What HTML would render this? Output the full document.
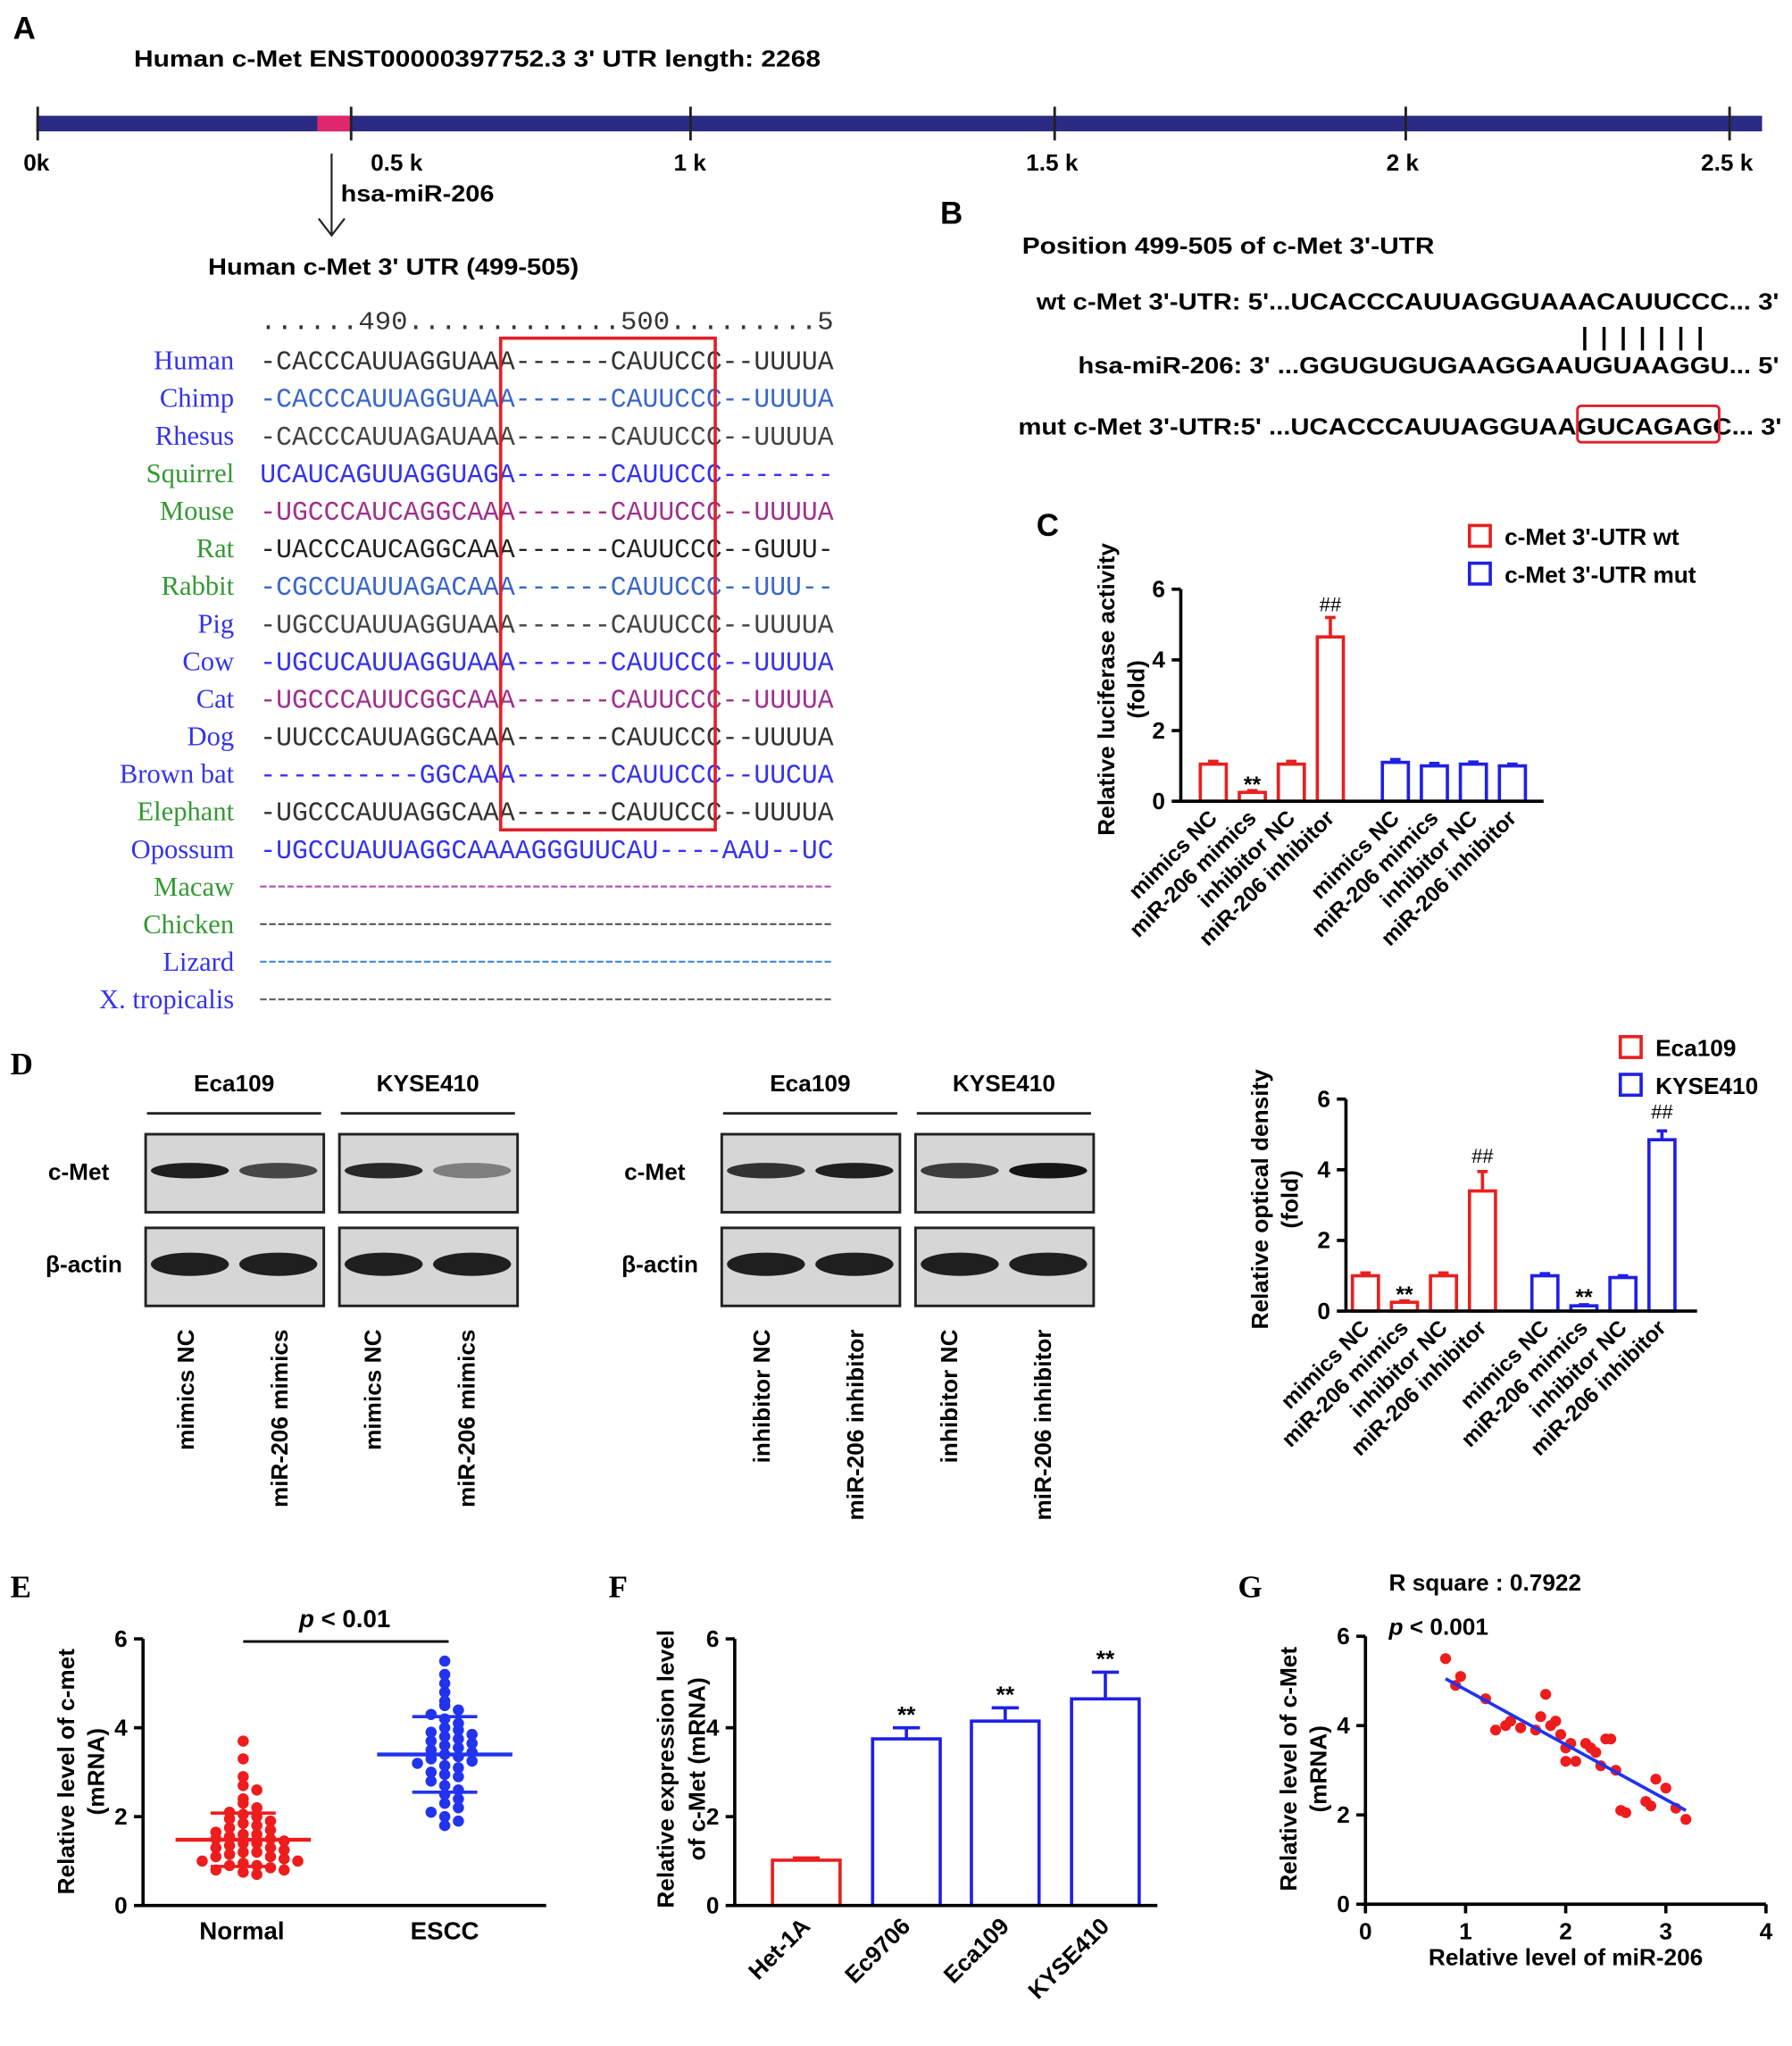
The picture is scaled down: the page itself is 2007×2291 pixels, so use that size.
<!DOCTYPE html>
<html><head><meta charset="utf-8"><style>
html,body{margin:0;padding:0;background:#fff}
svg{display:block}
text{font-family:"Liberation Sans",Arial,sans-serif}
.b{font-weight:bold}
.mono{font-family:"Liberation Mono",monospace}
.serif{font-family:"Liberation Serif",serif}
</style></head><body>
<svg id="fig" width="2007" height="2291" viewBox="0 0 1378 1573" xmlns="http://www.w3.org/2000/svg">
<defs><clipPath id="alnclip"><rect x="195" y="230" width="446" height="560"/></clipPath></defs>
<g>
<text x="10" y="30" font-size="24" class="b">A</text>
<text x="103" y="51" font-size="18" class="b" textLength="528" lengthAdjust="spacingAndGlyphs">Human c-Met  ENST00000397752.3   3' UTR length: 2268</text>
<rect x="28" y="89" width="1327" height="12" fill="#2b2b85"/>
<rect x="244" y="89" width="26" height="12" fill="#e0266e"/>
<g stroke="#222" stroke-width="2">
<line x1="29" y1="82" x2="29" y2="108"/><line x1="270" y1="82" x2="270" y2="108"/><line x1="531" y1="82" x2="531" y2="108"/><line x1="811" y1="82" x2="811" y2="108"/><line x1="1081" y1="82" x2="1081" y2="108"/><line x1="1330" y1="82" x2="1330" y2="108"/></g>
<g font-size="18" class="b">
<text x="18" y="131">0k</text><text x="285" y="131">0.5 k</text><text x="518" y="131">1 k</text><text x="789" y="131">1.5 k</text><text x="1066" y="131">2 k</text><text x="1308" y="131">2.5 k</text></g>
<line x1="255" y1="118" x2="255" y2="180" stroke="#222" stroke-width="1.5"/>
<path d="M245 168 L255 181 L265 168" fill="none" stroke="#222" stroke-width="1.5"/>
<text x="262" y="155" font-size="18" class="b" textLength="118" lengthAdjust="spacingAndGlyphs">hsa-miR-206</text>
<text x="160" y="211" font-size="18" class="b" textLength="285" lengthAdjust="spacingAndGlyphs">Human c-Met 3' UTR (499-505)</text>
<g id="aln" clip-path="url(#alnclip)"></g>
<g id="alnNames"></g>
<rect x="385" y="260" width="165" height="378" fill="none" stroke="#e0202a" stroke-width="2.5"/>
</g>
<g>
<text x="723" y="172" font-size="24" class="b">B</text>
<text x="786" y="195" font-size="18" class="b" textLength="317" lengthAdjust="spacingAndGlyphs">Position 499-505 of c-Met  3'-UTR</text>
<text x="797" y="238" font-size="18" class="b" textLength="571" lengthAdjust="spacingAndGlyphs">wt c-Met 3'-UTR: 5'...UCACCCAUUAGGUAAACAUUCCC... 3'</text>
<text x="1216" y="265" font-size="19" class="b" textLength="94">|||||||</text>
<text x="829" y="287" font-size="18" class="b" textLength="539" lengthAdjust="spacingAndGlyphs">hsa-miR-206: 3' ...GGUGUGUGAAGGAAUGUAAGGU... 5'</text>
<text x="783" y="334" font-size="18" class="b" textLength="587" lengthAdjust="spacingAndGlyphs">mut c-Met 3'-UTR:5' ...UCACCCAUUAGGUAAGUCAGAGC... 3'</text>
<rect x="1213" y="312" width="109" height="28" rx="3" fill="none" stroke="#e0202a" stroke-width="2"/>
</g>
<g id="charts"></g>
<g>
<text x="8" y="826" font-size="24" class="b serif">D</text>
<g id="blots"></g>
</g>
<text x="8" y="1228" font-size="24" class="b serif">E</text>
<text x="468" y="1228" font-size="24" class="b serif">F</text>
<text x="952" y="1228" font-size="24" class="b serif">G</text>
<text x="797" y="412" font-size="24" class="b">C</text>
</svg>
<script>
const species = ["Human","Chimp","Rhesus","Squirrel","Mouse","Rat","Rabbit","Pig","Cow","Cat","Dog","Brown bat","Elephant","Opossum","Macaw","Chicken","Lizard","X. tropicalis"];
const seqs = ["-CACCCAUUAGGUAAA------CAUUCCC--UUUUA","-CACCCAUUAGGUAAA------CAUUCCC--UUUUA","-CACCCAUUAGAUAAA------CAUUCCC--UUUUA","UCAUCAGUUAGGUAGA------CAUUCCC-------","-UGCCCAUCAGGCAAA------CAUUCCC--UUUUA","-UACCCAUCAGGCAAA------CAUUCCC--GUUU-","-CGCCUAUUAGACAAA------CAUUCCC--UUU--","-UGCCUAUUAGGUAAA------CAUUCCC--UUUUA","-UGCUCAUUAGGUAAA------CAUUCCC--UUUUA","-UGCCCAUUCGGCAAA------CAUUCCC--UUUUA","-UUCCCAUUAGGCAAA------CAUUCCC--UUUUA","----------GGCAAA------CAUUCCC--UUCUA","-UGCCCAUUAGGCAAA------CAUUCCC--UUUUA","-UGCCUAUUAGGCAAAAGGGUUCAU----AAU--UC","","","",""];
const nameColors = ["#3333ee","#3333ee","#3333ee","#339933","#339933","#339933","#339933","#3333ee","#3333ee","#3333ee","#3333ee","#3333ee","#339933","#3333ee","#339933","#339933","#3333ee","#3333ee"];
const seqColors = ["#333","#3a66cc","#444","#3333ee","#a0308f","#222","#3a66cc","#444","#3333ee","#a0308f","#333","#3333ee","#333","#3333ee","#b050b0","#555","#4a90d0","#666"];

const cCats = ["mimics NC","miR-206 mimics","inhibitor NC","miR-206 inhibitor","mimics NC","miR-206 mimics","inhibitor NC","miR-206 inhibitor"];
const cWt = [1.05,0.25,1.05,4.65];
const cWtErr = [0.08,0.05,0.08,0.55];
const cMut = [1.1,1.0,1.05,1.0];
const cMutErr = [0.08,0.07,0.06,0.05];

const dEca = [1.0,0.25,1.0,3.4];
const dEcaErr = [0.08,0.04,0.08,0.55];
const dKyse = [1.0,0.15,0.95,4.85];
const dKyseErr = [0.06,0.03,0.05,0.25];

const eNormal = [3.7,3.3,2.9,2.7,2.6,2.4,2.3,2.2,2.1,2.05,2.0,1.95,1.9,1.85,1.8,1.75,1.7,1.65,1.6,1.6,1.55,1.5,1.5,1.45,1.4,1.4,1.35,1.3,1.3,1.25,1.2,1.2,1.15,1.1,1.1,1.05,1.0,1.0,0.95,0.9,0.9,0.85,0.8,0.8,0.75,0.7];
const eEscc = [5.5,5.2,5.0,4.8,4.6,4.5,4.4,4.3,4.2,4.1,4.0,3.95,3.9,3.85,3.8,3.75,3.7,3.65,3.6,3.55,3.5,3.45,3.4,3.35,3.3,3.25,3.2,3.15,3.1,3.0,2.95,2.9,2.8,2.7,2.6,2.5,2.4,2.3,2.2,2.1,2.0,1.9,1.8];
const eMeans = [1.48,3.4];
const eSd = [0.6,0.85];

const fCats = ["Het-1A","Ec9706","Eca109","KYSE410"];
const fVals = [1.02,3.75,4.15,4.65];
const fErr = [0.05,0.25,0.3,0.6];

const gX = [0.8,0.9,0.95,1.2,1.3,1.4,1.45,1.55,1.7,1.75,1.8,1.85,1.9,1.95,2.0,2.05,2.0,2.1,2.2,2.25,2.3,2.35,2.4,2.45,2.5,2.55,2.6,2.8,2.85,2.9,3.0,3.1,3.2];
const gY = [5.5,4.9,5.1,4.6,3.9,4.0,4.1,3.95,3.9,4.2,4.7,4.0,4.1,3.8,3.5,3.6,3.2,3.2,3.6,3.5,3.4,3.1,3.7,3.7,3.0,2.1,2.05,2.3,2.2,2.8,2.6,2.15,1.9];
const gFit = [[0.8,5.05],[3.2,2.1]];

const NS="http://www.w3.org/2000/svg";
function mk(tag,attrs,parent,txt){const e=document.createElementNS(NS,tag);for(const k in attrs)e.setAttribute(k,attrs[k]);if(txt!==undefined)e.textContent=txt;(parent||document.getElementById('charts')).appendChild(e);return e;}

const aln=document.getElementById('aln'), alnN=document.getElementById('alnNames');
const hdr=mk('text',{x:200,y:253,'font-size':20,class:'mono',fill:'#333',textLength:441,lengthAdjust:'spacingAndGlyphs'},aln,"......490.............500.........5");


species.forEach((s,i)=>{
  const y=284+i*28.9;
  const n=mk('text',{x:180,y:y,'font-size':21,class:'serif','text-anchor':'end',fill:nameColors[i]},alnN,s);
  
  
  if(seqs[i]){
    const t=mk('text',{x:200,y:y,'font-size':21,class:'mono',fill:seqColors[i],textLength:441,lengthAdjust:'spacingAndGlyphs'},aln,seqs[i]);
    
    
  } else {
    const l=mk('line',{x1:200,x2:641,y1:y-7,y2:y-7,stroke:seqColors[i],'stroke-width':1.5,'stroke-dasharray':'5 2'},aln);
    
    
  }
});

function yAxis(g,x,y0,y6,ymax,step,tickFs){
  mk('line',{x1:x,x2:x,y1:y0+1,y2:y6,stroke:'#000','stroke-width':2.5},g);
  for(let v=0;v<=ymax;v+=step){const y=y0-(y0-y6)*v/ymax;
    mk('line',{x1:x-7,x2:x,y1:y,y2:y,stroke:'#000','stroke-width':2.5},g);
    mk('text',{x:x-12,y:y+6,'font-size':tickFs||18,'text-anchor':'end',class:'b'},g,String(v));}
}
function sc(y0,y6,ymax){return v=>y0-(y0-y6)*v/ymax;}
function barSet(g,xs,vals,errs,color,w,Y,y0){
  vals.forEach((v,i)=>{const x=xs[i],y=Y(v);
    const r=mk('rect',{x:x-w/2,y:y,width:w,height:y0-y,fill:'#fff',stroke:color,'stroke-width':2.5},g);
    
    
    const ye=Y(v+errs[i]);
    mk('line',{x1:x,x2:x,y1:y,y2:ye,stroke:color,'stroke-width':2.5},g);
    mk('line',{x1:x-w*0.2,x2:x+w*0.2,y1:ye,y2:ye,stroke:color,'stroke-width':2.5},g);
  });
}
function rotLabels(g,xs,labels,y,fs){
  labels.forEach((l,i)=>{const t=mk('text',{x:xs[i]+4,y:y,'font-size':fs,class:'b','text-anchor':'end',transform:`rotate(-45 ${xs[i]+4} ${y})`},g,l);
    
    });
}

(function(){
  const g=mk('g',{});
  
  
  const y0=616,y6=453,Y=sc(y0,y6,6);
  const xs=[933,963,993,1023,1073,1103,1133,1163];
  barSet(g,xs.slice(0,4),cWt,cWtErr,'#e82020',20,Y,y0);
  barSet(g,xs.slice(4),cMut,cMutErr,'#2020e8',20,Y,y0);
  yAxis(g,908,y0,y6,6,2,18);
  mk('line',{x1:907,x2:1187,y1:y0,y2:y0,stroke:'#000','stroke-width':2.5},g);
  rotLabels(g,xs,cCats,630,17);
  mk('text',{x:963,y:609,'font-size':17,'text-anchor':'middle',class:'b'},g,'**');
  mk('text',{x:1023,y:470,'font-size':15,'text-anchor':'middle'},g,'##');
  mk('text',{x:0,y:0,'font-size':18,class:'b','text-anchor':'middle',transform:'translate(857 530) rotate(-90)'},g,'Relative luciferase activity');
  mk('text',{x:0,y:0,'font-size':18,class:'b','text-anchor':'middle',transform:'translate(880 530) rotate(-90)'},g,'(fold)');
  mk('rect',{x:1130,y:404,width:16,height:16,fill:'none',stroke:'#e82020','stroke-width':2.5},g);
  mk('text',{x:1157,y:419,'font-size':18,class:'b'},g,"c-Met 3'-UTR wt");
  mk('rect',{x:1130,y:433,width:16,height:16,fill:'none',stroke:'#2020e8','stroke-width':2.5},g);
  mk('text',{x:1157,y:448,'font-size':18,class:'b'},g,"c-Met 3'-UTR mut");
})();

(function(){
  const g=document.getElementById('blots');
  function blotGroup(x0,heads,lanes,cMetInt){
    mk('text',{x:x0-75,y:907,'font-size':18,class:'b'},g,'c-Met');
    mk('text',{x:x0-77,y:978,'font-size':18,class:'b'},g,'β-actin');
    heads.forEach((h,k)=>{const bx=x0+k*149;
      mk('text',{x:bx+68,y:839,'font-size':18,class:'b','text-anchor':'middle'},g,h);
      mk('line',{x1:bx+1,x2:bx+135,y1:856,y2:856,stroke:'#222','stroke-width':2},g);
      [872,944].forEach((by,r)=>{
        const box=mk('rect',{x:bx,y:by,width:137,height:60,fill:'#d6d6d6',stroke:'#222','stroke-width':2},g);
        
        
        [0,1].forEach(j=>{const op=r?0.95:cMetInt[k*2+j];
          mk('ellipse',{cx:bx+34+j*68,cy:by+28,rx:30,ry:r?9:6,fill:'#151515',opacity:op},g);});
      });
    });
    lanes.forEach((l,i)=>{const lx=x0+37+i*72;
      mk('text',{x:0,y:0,'font-size':18,class:'b','text-anchor':'end',transform:`translate(${lx} 1022) rotate(-90)`},g,l);});
  }
  blotGroup(112,['Eca109','KYSE410'],['mimics NC','miR-206 mimics','mimics NC','miR-206 mimics'],[0.95,0.75,0.9,0.45]);
  blotGroup(555,['Eca109','KYSE410'],['inhibitor NC','miR-206 inhibitor','inhibitor NC','miR-206 inhibitor'],[0.85,0.95,0.8,1.0]);
})();

(function(){
  const g=mk('g',{});
  
  
  const y0=1008,y6=845,Y=sc(y0,y6,6);
  const xs=[1050,1080,1110,1140,1188,1218,1248,1278];
  barSet(g,xs.slice(0,4),dEca,dEcaErr,'#e82020',20,Y,y0);
  barSet(g,xs.slice(4),dKyse,dKyseErr,'#2020e8',20,Y,y0);
  yAxis(g,1035,y0,y6,6,2,18);
  mk('line',{x1:1034,x2:1305,y1:y0,y2:y0,stroke:'#000','stroke-width':2.5},g);
  rotLabels(g,xs,cCats,1022,17);
  mk('text',{x:1080,y:1001,'font-size':17,'text-anchor':'middle',class:'b'},g,'**');
  mk('text',{x:1218,y:1003,'font-size':17,'text-anchor':'middle',class:'b'},g,'**');
  mk('text',{x:1140,y:894,'font-size':15,'text-anchor':'middle'},g,'##');
  mk('text',{x:1278,y:860,'font-size':15,'text-anchor':'middle'},g,'##');
  mk('text',{x:0,y:0,'font-size':18,class:'b','text-anchor':'middle',transform:'translate(975 922) rotate(-90)'},g,'Relative optical density');
  mk('text',{x:0,y:0,'font-size':18,class:'b','text-anchor':'middle',transform:'translate(998 922) rotate(-90)'},g,'(fold)');
  mk('rect',{x:1246,y:797,width:16,height:16,fill:'none',stroke:'#e82020','stroke-width':2.5},g);
  mk('text',{x:1273,y:812,'font-size':18,class:'b'},g,'Eca109');
  mk('rect',{x:1246,y:826,width:16,height:16,fill:'none',stroke:'#2020e8','stroke-width':2.5},g);
  mk('text',{x:1273,y:841,'font-size':18,class:'b'},g,'KYSE410');
})();

(function(){
  const g=mk('g',{});
  
  
  const y0=1465,y6=1260,Y=sc(y0,y6,6);
  yAxis(g,110,y0,y6,6,2,18);
  mk('line',{x1:109,x2:420,y1:y0,y2:y0,stroke:'#000','stroke-width':2.5},g);
  const cx=[187,342],cols=['#ee1c1c','#2233ee'];
  [eNormal,eEscc].forEach((arr,k)=>{
    const bins={};
    arr.forEach(v=>{const b=Math.round(v/0.22);const n=bins[b]||0;bins[b]=n+1;
      const off=(n%2?1:-1)*Math.ceil(n/2)*10.5;
      const p=mk('circle',{cx:cx[k]+off,cy:Y(v),r:4.3,fill:cols[k]},g);
      
      });
    const m=eMeans[k],s=eSd[k];
    mk('line',{x1:cx[k]-52,x2:cx[k]+52,y1:Y(m),y2:Y(m),stroke:cols[k],'stroke-width':3},g);
    mk('line',{x1:cx[k],x2:cx[k],y1:Y(m-s),y2:Y(m+s),stroke:cols[k],'stroke-width':2.5},g);
    [m-s,m+s].forEach(v=>mk('line',{x1:cx[k]-25,x2:cx[k]+25,y1:Y(v),y2:Y(v),stroke:cols[k],'stroke-width':2.5},g));
  });
  mk('text',{x:186,y:1491,'font-size':19,class:'b','text-anchor':'middle'},g,'Normal');
  mk('text',{x:342,y:1491,'font-size':19,class:'b','text-anchor':'middle'},g,'ESCC');
  mk('line',{x1:187,x2:345,y1:1262,y2:1262,stroke:'#000','stroke-width':2},g);
  const pt=mk('text',{x:230,y:1251,'font-size':19,class:'b'},g);
  mk('tspan',{'font-style':'italic'},pt,'p');pt.appendChild(document.createTextNode(' < 0.01'));
  mk('text',{x:0,y:0,'font-size':18,class:'b','text-anchor':'middle',transform:'translate(57 1362) rotate(-90)'},g,'Relative level of c-met');
  mk('text',{x:0,y:0,'font-size':18,class:'b','text-anchor':'middle',transform:'translate(80 1362) rotate(-90)'},g,'(mRNA)');
})();

(function(){
  const g=mk('g',{});
  
  
  const y0=1465,y6=1260,Y=sc(y0,y6,6);
  const xs=[620,697,773,850];
  barSet(g,xs.slice(0,1),fVals.slice(0,1),fErr.slice(0,1),'#e82020',52,Y,y0);
  barSet(g,xs.slice(1),fVals.slice(1),fErr.slice(1),'#2020e8',52,Y,y0);
  yAxis(g,565,y0,y6,6,2,18);
  mk('line',{x1:564,x2:890,y1:y0,y2:y0,stroke:'#000','stroke-width':2.5},g);
  rotLabels(g,xs,fCats,1482,18);
  xs.slice(1).forEach((x,i)=>mk('text',{x:x,y:Y(fVals[i+1]+fErr[i+1])-4,'font-size':18,'text-anchor':'middle',class:'b'},g,'**'));
  mk('text',{x:0,y:0,'font-size':18,class:'b','text-anchor':'middle',transform:'translate(518 1360) rotate(-90)'},g,'Relative expression level');
  mk('text',{x:0,y:0,'font-size':18,class:'b','text-anchor':'middle',transform:'translate(542 1360) rotate(-90)'},g,'of c-Met (mRNA)');
})();

(function(){
  const g=mk('g',{});
  
  
  const y0=1464,y6=1258,Y=sc(y0,y6,6);
  const X=v=>1050+77*v;
  yAxis(g,1050,y0,y6,6,2,18);
  mk('line',{x1:1049,x2:1358,y1:y0,y2:y0,stroke:'#000','stroke-width':2.5},g);
  for(let v=0;v<=4;v++){mk('line',{x1:X(v),x2:X(v),y1:y0,y2:y0+7,stroke:'#000','stroke-width':2.5},g);
    mk('text',{x:X(v),y:y0+27,'font-size':18,class:'b','text-anchor':'middle'},g,String(v));}
  gX.forEach((x,i)=>{const p=mk('circle',{cx:X(x),cy:Y(gY[i]),r:4.2,fill:'#ee1c1c'},g);
    
    });
  const fl=mk('line',{x1:X(gFit[0][0]),y1:Y(gFit[0][1]),x2:X(gFit[1][0]),y2:Y(gFit[1][1]),stroke:'#2233ee','stroke-width':2.5},g);
  
  
  mk('text',{x:1068,y:1223,'font-size':18,class:'b'},g,'R square : 0.7922');
  const pt=mk('text',{x:1068,y:1257,'font-size':18,class:'b'},g);
  mk('tspan',{'font-style':'italic'},pt,'p');pt.appendChild(document.createTextNode(' < 0.001'));
  mk('text',{x:1204,y:1511,'font-size':18,class:'b','text-anchor':'middle'},g,'Relative level of miR-206');
  mk('text',{x:0,y:0,'font-size':18,class:'b','text-anchor':'middle',transform:'translate(997 1360) rotate(-90)'},g,'Relative level of c-Met');
  mk('text',{x:0,y:0,'font-size':18,class:'b','text-anchor':'middle',transform:'translate(1020 1360) rotate(-90)'},g,'(mRNA)');
})();
</script>
</body></html>
